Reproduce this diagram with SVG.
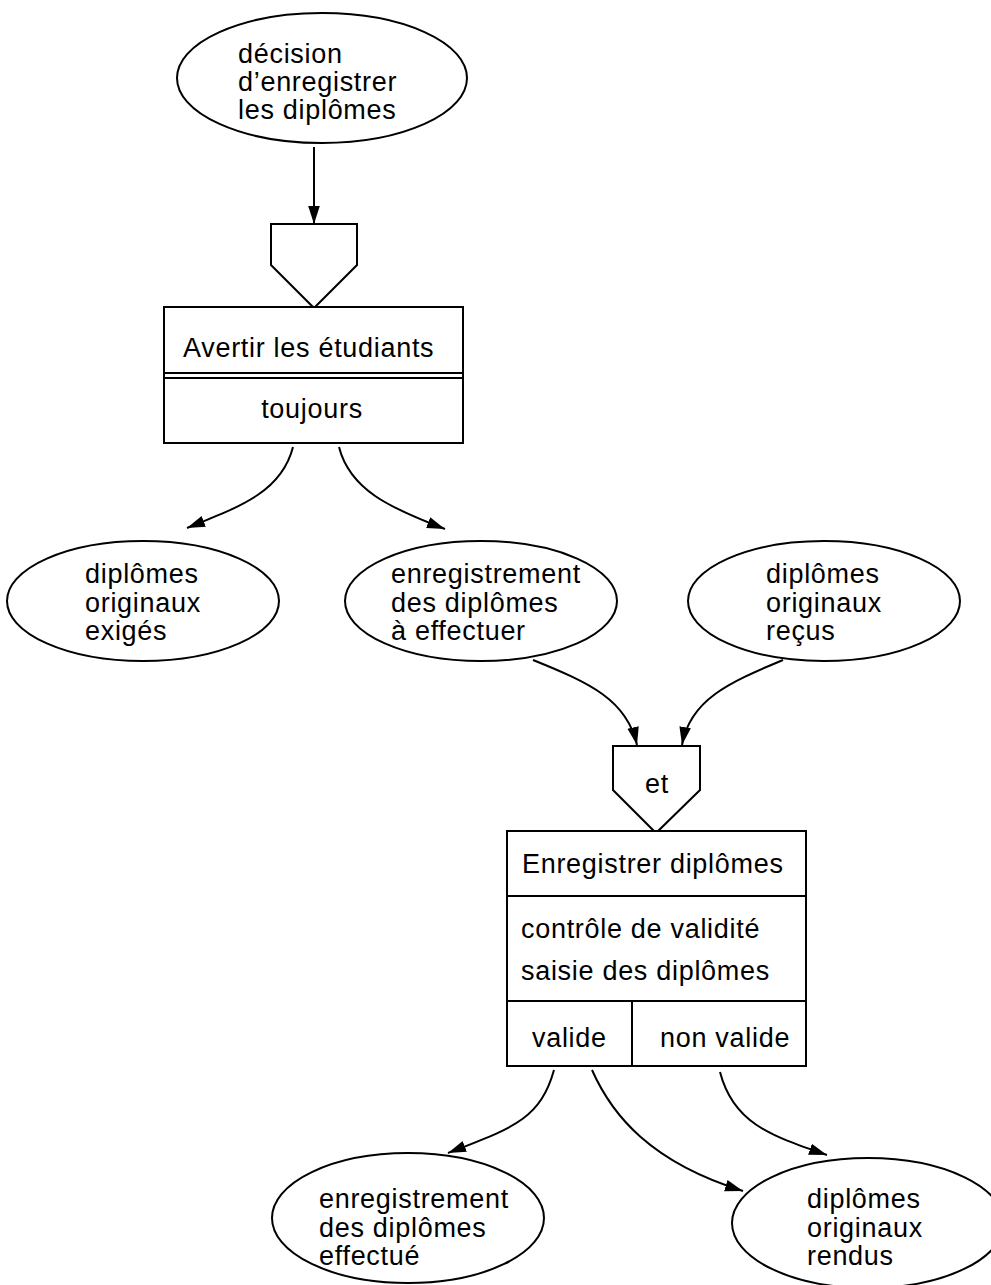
<svg xmlns="http://www.w3.org/2000/svg" width="991" height="1285" viewBox="0 0 991 1285">
<style>
  .shape { fill: #fff; stroke: #000; stroke-width: 2; }
  .line { fill: none; stroke: #000; stroke-width: 2; }
  .conn { fill: none; stroke: #000; stroke-width: 2; marker-end: url(#arr); }
  text { font-family: "Liberation Sans", Arial, Helvetica, sans-serif; font-size: 27px; letter-spacing: 0.7px; fill: #000; }
  .mid { text-anchor: middle; }
</style>
<defs>
  <marker id="arr" markerWidth="20" markerHeight="14" refX="18" refY="7" orient="auto" markerUnits="userSpaceOnUse">
    <path d="M0,1.2 L18,7 L0,12.8 Z" fill="#000"/>
  </marker>
</defs>
<rect width="991" height="1285" fill="#fff"/>

<g id="connectors">
  <path class="conn" d="M314,147 L314,224"/>
  <path class="conn" d="M293,447 C282,490 245,505 187,528"/>
  <path class="conn" d="M339,447 C350,490 390,508 445,529"/>
  <path class="conn" d="M533,660 C590,683 627,700 637,745"/>
  <path class="conn" d="M783,660 C728,683 690,700 682,745"/>
  <path class="conn" d="M554,1070 C540,1120 512,1128 448,1153"/>
  <path class="conn" d="M592,1070 C612,1115 650,1162 743,1191"/>
  <path class="conn" d="M720,1072 C733,1122 768,1135 827,1155"/>
</g>

<g id="ev-decision">
  <ellipse class="shape" cx="322" cy="78" rx="145" ry="65"/>
  <text x="238" y="63">décision</text>
  <text x="238" y="91">d’enregistrer</text>
  <text x="238" y="119">les diplômes</text>
</g>

<g id="sync-1">
  <path class="shape" d="M271,224 L357,224 L357,265 L314,308 L271,265 Z"/>
</g>

<g id="op-avertir">
  <rect class="shape" x="164" y="307" width="299" height="136"/>
  <line class="line" x1="164" y1="373" x2="463" y2="373"/>
  <line class="line" x1="164" y1="378" x2="463" y2="378"/>
  <text x="183" y="357">Avertir les étudiants</text>
  <text class="mid" x="312" y="418">toujours</text>
</g>

<g id="ev-exiges">
  <ellipse class="shape" cx="143" cy="601" rx="136" ry="60"/>
  <text x="85" y="583">diplômes</text>
  <text x="85" y="612">originaux</text>
  <text x="85" y="640">exigés</text>
</g>

<g id="ev-a-effectuer">
  <ellipse class="shape" cx="481" cy="601" rx="136" ry="60"/>
  <text x="391" y="583">enregistrement</text>
  <text x="391" y="612">des diplômes</text>
  <text x="391" y="640">à effectuer</text>
</g>

<g id="ev-recus">
  <ellipse class="shape" cx="824" cy="601" rx="136" ry="60"/>
  <text x="766" y="583">diplômes</text>
  <text x="766" y="612">originaux</text>
  <text x="766" y="640">reçus</text>
</g>

<g id="sync-et">
  <path class="shape" d="M613,746 L700,746 L700,790 L656,833 L613,790 Z"/>
  <text class="mid" x="657" y="793">et</text>
</g>

<g id="op-enregistrer">
  <rect class="shape" x="507" y="831" width="299" height="235"/>
  <line class="line" x1="507" y1="896" x2="806" y2="896"/>
  <line class="line" x1="507" y1="1001" x2="806" y2="1001"/>
  <line class="line" x1="632" y1="1001" x2="632" y2="1066"/>
  <text x="522" y="873">Enregistrer diplômes</text>
  <text x="521" y="938">contrôle de validité</text>
  <text x="521" y="980">saisie des diplômes</text>
  <text x="532" y="1047">valide</text>
  <text x="660" y="1047">non valide</text>
</g>

<g id="ev-effectue">
  <ellipse class="shape" cx="408" cy="1218" rx="136" ry="65"/>
  <text x="319" y="1208">enregistrement</text>
  <text x="319" y="1237">des diplômes</text>
  <text x="319" y="1265">effectué</text>
</g>

<g id="ev-rendus">
  <ellipse class="shape" cx="868" cy="1223" rx="136" ry="65"/>
  <text x="807" y="1208">diplômes</text>
  <text x="807" y="1237">originaux</text>
  <text x="807" y="1265">rendus</text>
</g>
</svg>
